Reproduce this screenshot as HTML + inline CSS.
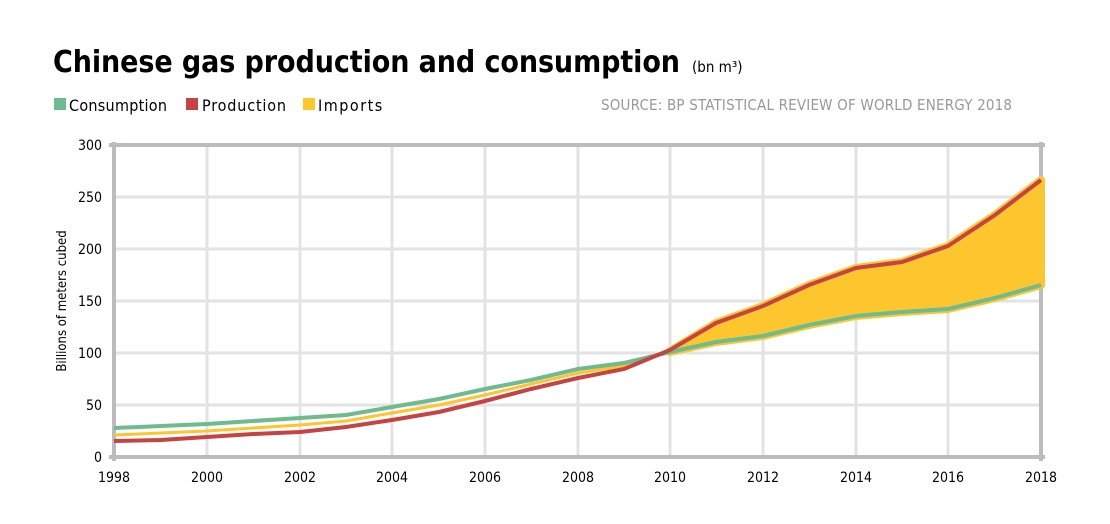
<!DOCTYPE html>
<html><head><meta charset="utf-8"><style>
body{margin:0;background:#fff;width:1110px;height:520px;overflow:hidden;font-family:"DejaVu Sans Condensed","DejaVu Sans","Liberation Sans",sans-serif}
</style></head><body>
<svg width="1110" height="520" xmlns="http://www.w3.org/2000/svg" font-family="DejaVu Sans Condensed, DejaVu Sans, Liberation Sans, sans-serif">
<text x="53" y="72" font-size="30" font-weight="bold" fill="#000" textLength="627">Chinese gas production and consumption</text>
<text x="692" y="72" font-size="15" fill="#000">(bn m³)</text>
<rect x="54" y="98" width="12" height="12" fill="#6dbb8e"/><text x="69" y="111" font-size="16" textLength="98">Consumption</text>
<rect x="186" y="98" width="12" height="12" fill="#c54443"/><text x="202" y="111" font-size="16" textLength="84">Production</text>
<rect x="303" y="98" width="12" height="12" fill="#fdc62e"/><text x="318" y="111" font-size="16" letter-spacing="1.5">Imports</text>
<text x="601" y="110" font-size="15" fill="#999" textLength="411">SOURCE: BP STATISTICAL REVIEW OF WORLD ENERGY 2018</text>
<g stroke="#e3e3e5" stroke-width="3">
<line x1="114" y1="197" x2="1041" y2="197"/><line x1="114" y1="249" x2="1041" y2="249"/><line x1="114" y1="301" x2="1041" y2="301"/><line x1="114" y1="353" x2="1041" y2="353"/><line x1="114" y1="405" x2="1041" y2="405"/>
<line x1="207" y1="145" x2="207" y2="457"/><line x1="300" y1="145" x2="300" y2="457"/><line x1="392" y1="145" x2="392" y2="457"/><line x1="485" y1="145" x2="485" y2="457"/><line x1="578" y1="145" x2="578" y2="457"/><line x1="670" y1="145" x2="670" y2="457"/><line x1="763" y1="145" x2="763" y2="457"/><line x1="856" y1="145" x2="856" y2="457"/><line x1="948" y1="145" x2="948" y2="457"/>
</g>
<g stroke="#bcbcc0" stroke-width="4" fill="none">
<line x1="109" y1="145" x2="1045" y2="145"/><line x1="109" y1="457" x2="1045" y2="457"/><line x1="114" y1="142" x2="114" y2="461"/><line x1="1041" y1="142" x2="1041" y2="461"/>
</g>
<polygon points="670,351 716,323 763,306 809,285 856,268 902,262 948,246 995,215 1041,180 1041,285 995,298 948,309 902,312 856,316 809,325 763,336 716,342 670,352" fill="#fdc62e" stroke="#fdc62e" stroke-width="8" stroke-linejoin="round"/>
<polyline points="114,435 161,433 207,431 253,428 300,425 346,421 392,413 439,405 485,395 531,384 578,373 624,366 670,351" fill="none" stroke="#fdc62e" stroke-width="3"/>
<polyline points="114,428 161,426 207,424 253,421 300,418 346,415 392,407 439,399 485,389 531,380 578,369 624,363 670,352 716,342 763,336 809,325 856,316 902,312 948,309 995,298 1041,285" fill="none" stroke="#6dbb8e" stroke-width="4"/>
<polyline points="114,441 161,440 207,437 253,434 300,432 346,427 392,420 439,412 485,401 531,389 578,378 624,369 670,350 716,323 763,306 809,285 856,268 902,262 948,246 995,215 1041,180" fill="none" stroke="#c54443" stroke-width="4"/>
<g font-size="14" text-anchor="end">
<text x="102" y="150">300</text><text x="102" y="202">250</text><text x="102" y="254">200</text><text x="102" y="306">150</text><text x="102" y="358">100</text><text x="102" y="410">50</text><text x="102" y="462">0</text>
</g>
<g font-size="14" text-anchor="middle">
<text x="114" y="482">1998</text><text x="207" y="482">2000</text><text x="300" y="482">2002</text><text x="392" y="482">2004</text><text x="485" y="482">2006</text><text x="578" y="482">2008</text><text x="670" y="482">2010</text><text x="763" y="482">2012</text><text x="856" y="482">2014</text><text x="948" y="482">2016</text><text x="1041" y="482">2018</text>
</g>
<text transform="translate(66,301) rotate(-90)" font-size="13" text-anchor="middle">Billions of meters cubed</text>
</svg>
</body></html>
